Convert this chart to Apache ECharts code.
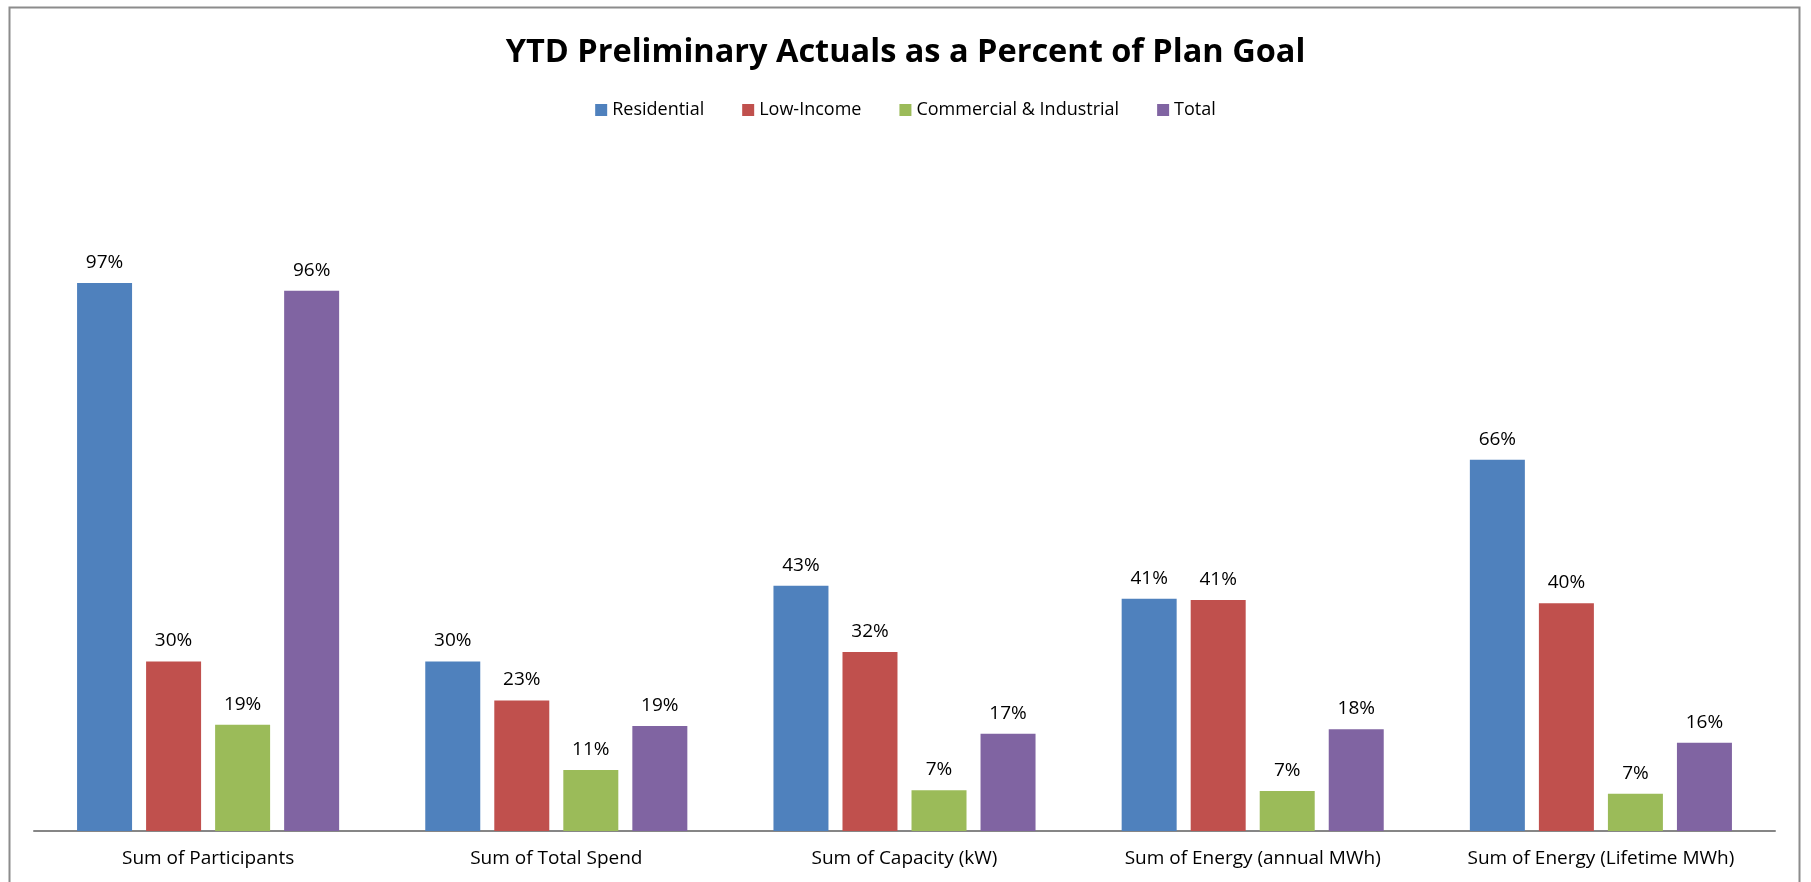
<!DOCTYPE html>
<html>
<head>
<meta charset="utf-8">
<script src="https://cdn.jsdelivr.net/npm/echarts@6/dist/echarts.min.js"></script>
<style>html,body{margin:0;padding:0;background:#fff;}#chart{width:1811px;height:882px;}</style>
</head>
<body>
<div id="chart"></div>
<script>
const categories = ['Sum of Participants', 'Sum of Total Spend', 'Sum of Capacity (kW)', 'Sum of Energy (annual MWh)', 'Sum of Energy (Lifetime MWh)'];
const residential = [0.97, 0.30, 0.434, 0.411, 0.657];
const lowIncome = [0.30, 0.231, 0.317, 0.409, 0.403];
const commercial = [0.188, 0.108, 0.072, 0.071, 0.066];
const total = [0.956, 0.186, 0.172, 0.180, 0.156];
const seriesNames = ['Residential', 'Low-Income', 'Commercial & Industrial', 'Total'];
const colors = ['#4F81BD', '#C0504D', '#9BBB59', '#8064A2'];

const font = "'Open Sans', 'Liberation Sans', sans-serif";
const chart = echarts.init(document.getElementById('chart'));
const dataSets = [residential, lowIncome, commercial, total];
chart.setOption({
  animation: false,
  backgroundColor: '#fff',
  title: {
    text: 'YTD Preliminary Actuals as a Percent of Plan Goal',
    left: 'center', top: 31,
    textStyle: { fontFamily: font, fontWeight: 'bold', fontSize: 32.5, color: '#000' }
  },
  legend: {
    data: seriesNames, top: 96, left: 'center',
    itemWidth: 12, itemHeight: 12, itemGap: 38, icon: 'rect',
    textStyle: { fontFamily: font, fontSize: 18, color: '#000' }
  },
  graphic: [{
    type: 'rect', shape: { x: 9.5, y: 7.5, width: 1790, height: 900 },
    style: { fill: 'none', stroke: '#8c8c8c', lineWidth: 2 }, silent: true
  }],
  grid: { left: 34, right: 36, top: 266, bottom: 51, containLabel: false },
  xAxis: {
    type: 'category', data: categories,
    axisLine: { lineStyle: { color: '#868686', width: 2 } },
    axisTick: { show: false },
    axisLabel: { fontFamily: font, fontSize: 19, color: '#000', margin: 18 }
  },
  yAxis: { type: 'value', min: 0, max: 1, show: false, splitLine: { show: false } },
  series: dataSets.map((d, i) => ({
    name: seriesNames[i], type: 'bar', data: d,
    barWidth: 55, barGap: '25.5%',
    itemStyle: { color: colors[i] },
    label: {
      show: true, position: 'top', distance: 11,
      fontFamily: font, fontSize: 19, color: '#000',
      formatter: p => Math.round(p.value * 100) + '%'
    }
  }))
});
</script>
</body>
</html>
